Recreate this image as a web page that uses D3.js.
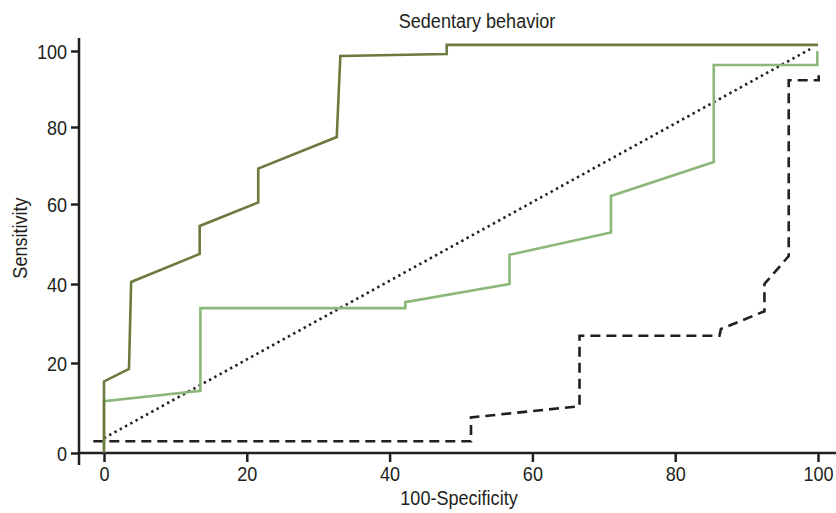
<!DOCTYPE html>
<html>
<head>
<meta charset="utf-8">
<script src="https://cdn.jsdelivr.net/npm/d3@7"></script>
<style>
    body { margin: 0; background: #fff; }
    svg text { font-family: "Liberation Sans", Arial, sans-serif; fill: #231f20; }
</style>
</head>
<body>
<div id="chart"></div>
<script>
// ROC curves, values (x = 100-specificity, y = sensitivity)
const title = "Sedentary behavior";
const x_ticks = [0, 20, 40, 60, 80, 100];
const y_ticks = [0, 20, 40, 60, 80, 100];

const dark_x = [0, 0, 3.5, 3.8, 13.4, 13.4, 21.6, 21.6, 32.6, 33.1, 48.0, 48.0, 100];
const dark_y = [0, 15.9, 18.7, 40.5, 47.5, 54.5, 60.4, 69.2, 77.4, 98.7, 99.2, 101.6, 101.6];

const light_x = [0, 0, 13.5, 13.5, 42.2, 42.2, 56.8, 56.8, 71.0, 71.0, 85.4, 85.4, 99.9, 99.9];
const light_y = [0.8, 11.5, 13.8, 33.9, 33.9, 35.4, 40.0, 47.3, 52.9, 62.1, 70.9, 96.3, 96.3, 100];

const dash_x = [-1.5, 51.4, 51.4, 66.6, 66.6, 86.2, 86.4, 92.5, 92.5, 95.9, 95.9, 100.1, 100.1];
const dash_y = [2.6, 2.6, 7.9, 10.4, 26.9, 26.9, 28.6, 33.1, 40.0, 47.0, 92.3, 92.3, 94.0];

const ref_x = [0, 98.9];
const ref_y = [3.3, 100.5];

const width = 836, height = 513;
// the print uses a condensed face, squeeze the regular one to match
const squeeze = 0.86;

const svg = d3.select("#chart").append("svg")
    .attr("width", width)
    .attr("height", height);

const x = d3.scaleLinear().domain([0, 100]).range([104, 818]);
// the printed y ticks are not evenly spaced, so follow them tick by tick
const y = d3.scaleLinear().domain(y_ticks).range([453, 363, 284, 204, 127, 51]);

// axes
const axis_color = "#231f20";

const x_axis = svg.append("g")
    .attr("transform", "translate(0,453)")
    .call(d3.axisBottom(x).tickValues(x_ticks).tickSize(9).tickPadding(4));
const y_axis = svg.append("g")
    .attr("transform", "translate(79,0)")
    .call(d3.axisLeft(y).tickValues(y_ticks).tickSize(8).tickPadding(4));

[x_axis, y_axis].forEach(ax => {
    ax.select(".domain").remove();
    ax.selectAll("line").attr("stroke", axis_color).attr("stroke-width", 2.5);
    ax.selectAll("text")
        .style("font-size", "21px")
        .attr("transform", `scale(${squeeze},1)`);
});
y_axis.selectAll("text").attr("x", -12 / squeeze).attr("dy", "0.36em");
x_axis.selectAll("text").attr("dy", "0.72em");

svg.append("line")
    .attr("x1", 79).attr("x2", 79)
    .attr("y1", 38).attr("y2", 465)
    .attr("stroke", axis_color).attr("stroke-width", 2.5);
svg.append("line")
    .attr("x1", 78).attr("x2", 836)
    .attr("y1", 453).attr("y2", 453)
    .attr("stroke", axis_color).attr("stroke-width", 2.5);

// curves
const line = d3.line().x(d => x(d[0])).y(d => y(d[1]));

let series = [
    {xs: ref_x, ys: ref_y, color: "#231f20", dash: "2.4,3.6", width: 2.6},
    {xs: dash_x, ys: dash_y, color: "#231f20", dash: "10,6", width: 2.6},
    {xs: light_x, ys: light_y, color: "#8bb878", dash: null, width: 2.6},
    {xs: dark_x, ys: dark_y, color: "#6b7a3e", dash: null, width: 2.6}
];

svg.selectAll("path.curve")
    .data(series)
    .join("path")
    .classed("curve", true)
    .attr("d", s => line(s.xs.map((v, i) => [v, s.ys[i]])))
    .attr("fill", "none")
    .attr("stroke", s => s.color)
    .attr("stroke-width", s => s.width)
    .attr("stroke-dasharray", s => s.dash);

// texts
svg.append("text")
    .attr("transform", `translate(477,28) scale(${squeeze},1)`)
    .attr("text-anchor", "middle")
    .style("font-size", "21px")
    .text(title);

svg.append("text")
    .attr("transform", `translate(459,505) scale(${squeeze},1)`)
    .attr("text-anchor", "middle")
    .style("font-size", "21px")
    .text("100-Specificity");

svg.append("text")
    .attr("transform", `translate(27,238) rotate(-90) scale(${squeeze},1)`)
    .attr("text-anchor", "middle")
    .style("font-size", "21px")
    .text("Sensitivity");
</script>
</body>
</html>
